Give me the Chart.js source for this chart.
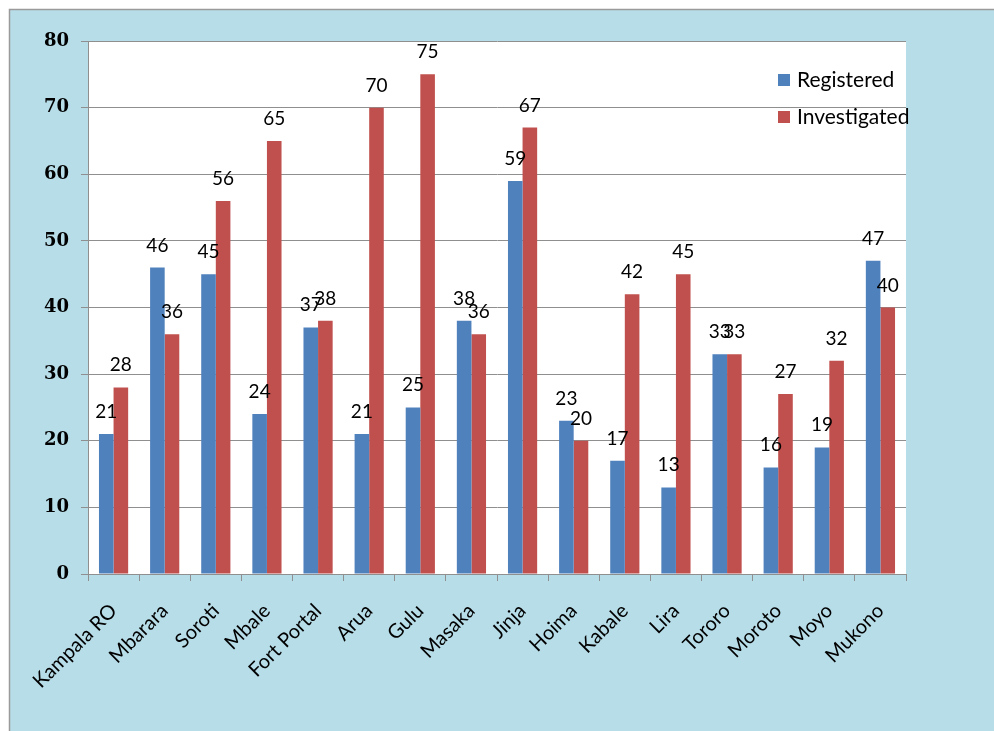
<!DOCTYPE html>
<html>
<head>
<meta charset="utf-8">
<title>Registered and investigated cases by office</title>
<script src="https://cdn.jsdelivr.net/npm/chart.js@4.4.1/dist/chart.umd.min.js"></script>
<style>
  html, body { margin: 0; padding: 0; background: #fff; }
  canvas { display: block; }
</style>
</head>
<body>
<canvas id="casesChart" width="994" height="731"></canvas>
<script>
const offices = ['Kampala RO', 'Mbarara', 'Soroti', 'Mbale', 'Fort Portal', 'Arua', 'Gulu', 'Masaka',
  'Jinja', 'Hoima', 'Kabale', 'Lira', 'Tororo', 'Moroto', 'Moyo', 'Mukono'];
const registered = [21, 46, 45, 24, 37, 21, 25, 38, 59, 23, 17, 13, 33, 16, 19, 47];
const investigated = [28, 36, 56, 65, 38, 70, 75, 36, 67, 20, 42, 45, 33, 27, 32, 40];
const yTicks = [0, 10, 20, 30, 40, 50, 60, 70, 80];

const BLUE = '#4F81BD';
const RED = '#C0504D';
const FRAME = '#B7DDE8';
const LINE = '#8F8F8F';

// page frame: white margin, light blue panel, white plot area
const framePlugin = {
  id: 'frame',
  beforeDraw: (chart) => {
    const { ctx, width, height, chartArea } = chart;
    ctx.save();
    ctx.fillStyle = '#ffffff';
    ctx.fillRect(0, 0, width, height);
    ctx.fillStyle = FRAME;
    ctx.fillRect(9, 9, width - 9, height - 9);
    ctx.strokeStyle = '#9a9a9a';
    ctx.lineWidth = 1.5;
    ctx.beginPath();
    ctx.moveTo(9.5, height);
    ctx.lineTo(9.5, 9.5);
    ctx.lineTo(width, 9.5);
    ctx.stroke();
    ctx.fillStyle = '#ffffff';
    ctx.fillRect(chartArea.left, chartArea.top, chartArea.right - chartArea.left, chartArea.bottom - chartArea.top);
    ctx.restore();
  }
};

// value above each bar
const valueLabels = {
  id: 'valueLabels',
  afterDatasetsDraw: (chart) => {
    const { ctx } = chart;
    ctx.save();
    ctx.font = '19px Lato';
    ctx.fillStyle = '#000';
    ctx.textAlign = 'center';
    ctx.textBaseline = 'alphabetic';
    chart.data.datasets.forEach((ds, i) => {
      chart.getDatasetMeta(i).data.forEach((bar, j) => {
        ctx.fillText(String(ds.data[j]), bar.x, bar.y - 16);
      });
    });
    ctx.restore();
  }
};

// legend sitting in the upper right corner of the plot
const cornerLegend = {
  id: 'cornerLegend',
  afterDraw: (chart) => {
    const { ctx, chartArea } = chart;
    ctx.save();
    ctx.font = '21px Lato';
    ctx.textBaseline = 'middle';
    ctx.textAlign = 'left';
    chart.data.datasets.forEach((ds, i) => {
      const y = chartArea.top + 39 + i * 37;
      const x = chartArea.right - 128;
      ctx.fillStyle = ds.backgroundColor;
      ctx.fillRect(x, y - 6, 12, 12);
      ctx.fillStyle = '#000';
      ctx.fillText(ds.label, x + 19, y);
    });
    ctx.restore();
  }
};

const ctx = document.getElementById('casesChart').getContext('2d');

new Chart(ctx, {
  type: 'bar',
  data: {
    labels: offices,
    datasets: [
      { label: 'Registered', data: registered, backgroundColor: BLUE },
      { label: 'Investigated', data: investigated, backgroundColor: RED }
    ]
  },
  options: {
    responsive: false,
    animation: false,
    layout: { padding: { left: 9, top: 41, right: 88, bottom: 0 } },
    datasets: {
      bar: { categoryPercentage: 0.571, barPercentage: 1 }
    },
    plugins: {
      legend: { display: false },
      tooltip: { enabled: false }
    },
    scales: {
      x: {
        grid: { offset: true, drawOnChartArea: false, drawTicks: true, tickLength: 7, color: LINE },
        border: { color: LINE, width: 1 },
        ticks: {
          autoSkip: false,
          minRotation: 45,
          maxRotation: 45,
          padding: 18,
          color: '#000',
          font: { family: 'Lato', size: 20 }
        },
        afterFit: (scale) => { scale.height = 157; }
      },
      y: {
        min: 0,
        max: 80,
        afterBuildTicks: (scale) => { scale.ticks = yTicks.map((v) => ({ value: v })); },
        grid: { color: LINE, tickLength: 7 },
        border: { color: LINE, width: 1 },
        ticks: {
          padding: 12,
          color: '#000',
          font: { family: 'DejaVu Serif', size: 18, weight: 'bold' }
        },
        afterFit: (scale) => { scale.width = 79; }
      }
    }
  },
  plugins: [framePlugin, valueLabels, cornerLegend]
});
</script>
</body>
</html>
